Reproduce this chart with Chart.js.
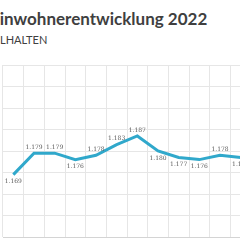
<!DOCTYPE html>
<html>
<head>
<meta charset="utf-8">
<script src="https://cdn.jsdelivr.net/npm/chart.js@4"></script>
<style>
  html, body { margin: 0; padding: 0; background: #fff; }
  body { width: 240px; height: 240px; overflow: hidden; position: relative; }
  #title { position: absolute; left: -10px; top: 8px; font: bold 17px Lato, sans-serif; color: #3f3f3f; white-space: nowrap; }
  #subtitle { position: absolute; left: 0px; top: 33px; font: 11px Lato, sans-serif; color: #404040; white-space: nowrap; }
  #wrap { position: absolute; left: -12px; top: 0; width: 275px; height: 240px; }
</style>
</head>
<body>
<div id="title">Einwohnerentwicklung 2022</div>
<div id="subtitle">LHALTEN</div>
<div id="wrap"><canvas id="lineChart"></canvas></div>
<script>
const months = ["Jan", "Feb", "Mär", "Apr", "Mai", "Jun", "Jul", "Aug", "Sep", "Okt", "Nov", "Dez"];
const einwohner = [1169, 1179, 1179, 1176, 1178, 1183, 1187, 1180, 1177, 1176, 1178, 1177];
const yTicks = [1140, 1220, 10]; // min, max, step

// where each value label sits relative to its point
const labelSide = ["below", "above", "above", "below", "above", "above", "above", "below", "below", "below", "above", "below"];

const fmt = v => v.toLocaleString("de-DE");

const valueLabels = {
  id: "valueLabels",
  afterDatasetsDraw(chart) {
    const ctx = chart.ctx;
    const meta = chart.getDatasetMeta(0);
    ctx.save();
    ctx.font = "6px 'DejaVu Serif', serif";
    ctx.fillStyle = "#595959";
    ctx.textAlign = "center";
    meta.data.forEach((pt, i) => {
      const up = labelSide[i] === "above";
      ctx.textBaseline = up ? "bottom" : "top";
      ctx.fillText(fmt(einwohner[i]), pt.x, up ? pt.y - 3 : pt.y + 4);
    });
    ctx.restore();
  }
};

new Chart(document.getElementById("lineChart").getContext("2d"), {
  type: "line",
  data: {
    labels: months,
    datasets: [{
      data: einwohner,
      borderColor: "#30a8cb",
      borderWidth: 3,
      pointRadius: 0,
      tension: 0,
      fill: false
    }]
  },
  options: {
    responsive: true,
    maintainAspectRatio: false,
    animation: false,
    layout: { padding: { top: 65, left: 15, right: 12, bottom: 3 } },
    plugins: { legend: { display: false }, tooltip: { enabled: false } },
    scales: {
      x: {
        offset: true,
        grid: { offset: true, color: "#e6e6e6", drawTicks: false },
        border: { color: "#d4d4d4" },
        ticks: { display: false }
      },
      y: {
        min: yTicks[0],
        max: yTicks[1],
        ticks: { stepSize: yTicks[2], display: false },
        grid: { color: "#e6e6e6", drawTicks: false },
        border: { display: false }
      }
    }
  },
  plugins: [valueLabels]
});
</script>
</body>
</html>
